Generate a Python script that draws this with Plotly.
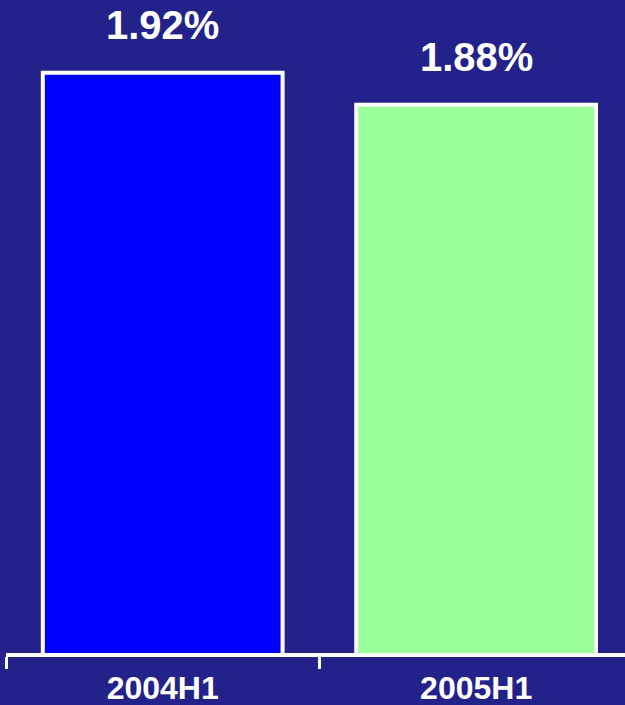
import plotly.graph_objects as go

categories = ["2004H1", "2005H1"]
values = [1.92, 1.88]
labels = ["1.92%", "1.88%"]
colors = ["#0000ff", "#99ff99"]

BG = "#22228a"
FONT = "Liberation Sans, Arial, sans-serif"

fig = go.Figure()
fig.add_trace(go.Bar(
    x=categories, y=values,
    marker=dict(color=colors, line=dict(color="white", width=4)),
    width=0.765,
    hoverinfo="skip",
))

for c, v, t in zip(categories, values, labels):
    fig.add_annotation(
        x=c, y=v, text=f"<b>{t}</b>", showarrow=False,
        yanchor="bottom", yshift=24,
        font=dict(family=FONT, size=40, color="white"),
    )

fig.update_layout(
    width=625, height=705,
    margin=dict(l=6, r=0, t=0, b=52),
    paper_bgcolor=BG, plot_bgcolor=BG,
    showlegend=False,
    xaxis=dict(
        type="category", range=[-0.5, 1.475],
        showline=True, linecolor="white", linewidth=4,
        ticks="outside", tickson="boundaries", ticklen=12, tickwidth=3, tickcolor="white",
        tickfont=dict(family=FONT, size=32, color="white"),
        tickprefix="<b>", ticksuffix="</b>",
        ticklabelstandoff=4,
        showgrid=False, zeroline=False,
    ),
    yaxis=dict(visible=False, range=[1.195, 2.011], showgrid=False, zeroline=False),
)

fig.write_html("out.html")
